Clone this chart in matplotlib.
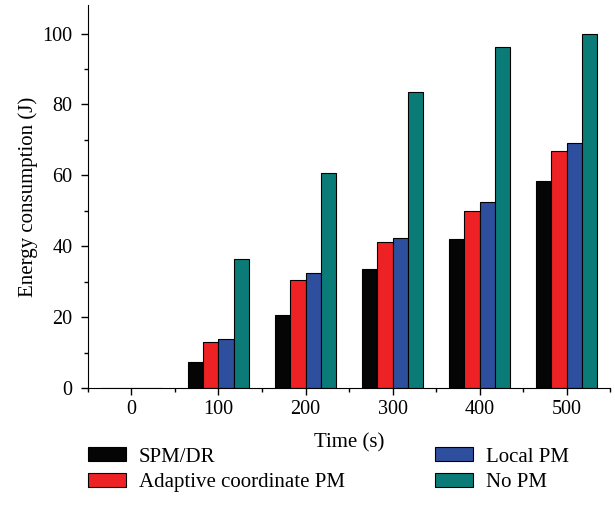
import matplotlib.pyplot as plt
import numpy as np
from matplotlib.ticker import MultipleLocator

plt.rcParams['font.family'] = ['Liberation Serif', 'DejaVu Serif']

times = [0, 100, 200, 300, 400, 500]
spm_dr = [0, 7.3, 20.7, 33.7, 42.1, 58.4]
adaptive = [0, 12.9, 30.4, 41.3, 50.0, 66.8]
local_pm = [0, 13.8, 32.6, 42.4, 52.4, 69.2]
no_pm = [0, 36.4, 60.7, 83.5, 96.2, 100.0]

labels = ['SPM/DR', 'Adaptive coordinate PM', 'Local PM', 'No PM']
colors = ['#050505', '#ee2224', '#2e4e9e', '#0b7b78']

fig = plt.figure(figsize=(6.15, 5.23), dpi=100)
ax = fig.add_axes([0.143, 0.258, 0.849, 0.732])

x = np.array(times, dtype=float)
w = 17.5
for k, (vals, lab, c) in enumerate(zip([spm_dr, adaptive, local_pm, no_pm], labels, colors)):
    ax.bar(x + (k - 1.5) * w, vals, width=w, color=c, edgecolor='black', linewidth=0.8, label=lab)

ax.set_xlim(-50, 550)
ax.set_ylim(0, 108)
ax.xaxis.set_major_locator(MultipleLocator(100))
ax.xaxis.set_minor_locator(MultipleLocator(50))
ax.yaxis.set_major_locator(MultipleLocator(20))
ax.yaxis.set_minor_locator(MultipleLocator(10))
ax.tick_params(which='major', direction='out', length=5, width=1, labelsize=14.5)
ax.tick_params(axis='y', which='major', pad=6)
ax.tick_params(which='minor', direction='out', length=3, width=1)
ax.spines['top'].set_visible(False)
ax.spines['right'].set_visible(False)
ax.set_xlabel('Time (s)', fontsize=15, labelpad=10)
ax.set_ylabel('Energy consumption (J)', fontsize=15, labelpad=3)

fig.legend(loc='upper left', bbox_to_anchor=(0.143, 0.145), ncol=2, frameon=False,
           fontsize=15, borderpad=0, borderaxespad=0, handlelength=1.85, handleheight=0.68,
           columnspacing=4.3, labelspacing=0.3, handletextpad=0.6)

fig.savefig('out.png', dpi=100)
